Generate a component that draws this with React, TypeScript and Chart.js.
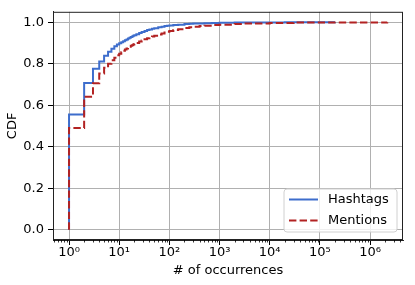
import { useEffect, useRef } from "react";
import { Chart, registerables } from "chart.js";

Chart.register(...registerables);

const hashtagsX = [1, 1, 2, 3, 4, 5, 6, 7, 8, 9, 10, 11, 12, 13, 14, 15, 16, 17, 18, 19, 20, 22, 25, 28, 32, 36, 40, 45, 50, 60, 70, 80, 90, 100, 120, 150, 200, 250, 300, 400, 500, 700, 1000, 2000, 5000, 20000, 200000];
const hashtagsY = [0, 0.555, 0.707, 0.776, 0.81, 0.838, 0.857, 0.872, 0.884, 0.892, 0.898, 0.903, 0.908, 0.913, 0.917, 0.921, 0.925, 0.928, 0.931, 0.934, 0.937, 0.942, 0.948, 0.953, 0.958, 0.962, 0.965, 0.968, 0.971, 0.975, 0.978, 0.981, 0.983, 0.984, 0.986, 0.988, 0.991, 0.992, 0.993, 0.994, 0.995, 0.996, 0.997, 0.998, 0.999, 0.9995, 1.0];

const mentionsX = [1, 1, 2, 3, 4, 5, 6, 7, 8, 9, 10, 11, 12, 13, 14, 15, 16, 17, 18, 19, 20, 22, 25, 28, 32, 36, 40, 45, 50, 60, 70, 80, 90, 100, 120, 150, 200, 250, 300, 400, 500, 700, 1000, 2000, 3000, 5000, 10000, 30000, 100000, 2200000];
const mentionsY = [0, 0.49, 0.64, 0.705, 0.752, 0.78, 0.8, 0.816, 0.829, 0.84, 0.848, 0.855, 0.862, 0.868, 0.873, 0.878, 0.882, 0.886, 0.889, 0.892, 0.895, 0.9, 0.907, 0.912, 0.918, 0.923, 0.927, 0.931, 0.935, 0.941, 0.946, 0.95, 0.954, 0.958, 0.962, 0.966, 0.972, 0.975, 0.978, 0.981, 0.983, 0.986, 0.988, 0.991, 0.993, 0.994, 0.996, 0.998, 0.999, 1.0];

const seriesLabels = ["Hashtags", "Mentions"];
const seriesColors = ["#3d6dcc", "#b22222"];

const xTickValues = [1, 10, 100, 1000, 10000, 100000, 1000000];
const xTickLabels = ["10⁰", "10¹", "10²", "10³", "10⁴", "10⁵", "10⁶"];
const yTickValues = [0, 0.2, 0.4, 0.6, 0.8, 1.0];

const xMin = 0.479;
const xMax = 4.54e6;
const yMin = -0.05;
const yMax = 1.05;

const FONT = "DejaVu Sans";

const framePlugin = {
  id: "frameAndLegend",
  afterDraw(chart: any) {
    const { ctx, chartArea: a, scales } = chart;
    const xs = scales.x;
    ctx.save();
    // minor ticks
    ctx.strokeStyle = "#000";
    ctx.lineWidth = 0.8;
    for (let d = -1; d <= 7; d++) {
      for (let m = 2; m <= 9; m++) {
        const v = m * Math.pow(10, d);
        if (v < xs.min || v > xs.max) continue;
        const px = Math.round(xs.getPixelForValue(v)) + 0.5;
        ctx.beginPath();
        ctx.moveTo(px, a.bottom);
        ctx.lineTo(px, a.bottom + 2.5);
        ctx.stroke();
      }
    }
    // frame
    ctx.strokeStyle = "#222";
    ctx.lineWidth = 1;
    ctx.strokeRect(a.left + 0.5, a.top + 0.5, a.right - a.left - 1, a.bottom - a.top - 1);

    // legend
    const bw = 113;
    const bh = 43;
    const bx = a.right - 6 - bw;
    const by = a.bottom - 8 - bh;
    const r = 3;
    ctx.beginPath();
    ctx.moveTo(bx + r, by);
    ctx.lineTo(bx + bw - r, by);
    ctx.arcTo(bx + bw, by, bx + bw, by + r, r);
    ctx.lineTo(bx + bw, by + bh - r);
    ctx.arcTo(bx + bw, by + bh, bx + bw - r, by + bh, r);
    ctx.lineTo(bx + r, by + bh);
    ctx.arcTo(bx, by + bh, bx, by + bh - r, r);
    ctx.lineTo(bx, by + r);
    ctx.arcTo(bx, by, bx + r, by, r);
    ctx.closePath();
    ctx.fillStyle = "rgba(255,255,255,0.8)";
    ctx.fill();
    ctx.strokeStyle = "#d0d0d0";
    ctx.lineWidth = 1;
    ctx.stroke();

    ctx.font = `13px "${FONT}"`;
    ctx.textBaseline = "middle";
    ctx.textAlign = "left";
    chart.data.datasets.forEach((ds: any, i: number) => {
      const ly = by + 10.5 + i * 21;
      ctx.strokeStyle = ds.borderColor;
      ctx.lineWidth = 2;
      ctx.setLineDash(ds.borderDash || []);
      ctx.beginPath();
      ctx.moveTo(bx + 5, ly);
      ctx.lineTo(bx + 34, ly);
      ctx.stroke();
      ctx.setLineDash([]);
      ctx.fillStyle = "#000";
      ctx.fillText(ds.label, bx + 44, ly + 0.5);
    });
    ctx.restore();
  },
};

export default function App() {
  const ref = useRef<HTMLCanvasElement | null>(null);

  useEffect(() => {
    document.body.style.margin = "0";
    if (!ref.current) return;
    Chart.defaults.font.family = FONT;
    Chart.defaults.font.size = 13;
    Chart.defaults.color = "#000";

    const hashData = hashtagsX.map((x, i) => ({ x, y: hashtagsY[i] }));
    const mentData = mentionsX.map((x, i) => ({ x, y: mentionsY[i] }));

    const chart = new Chart(ref.current, {
      type: "line",
      data: {
        datasets: [
          {
            label: seriesLabels[0],
            data: hashData,
            borderColor: seriesColors[0],
            backgroundColor: seriesColors[0],
            borderWidth: 2,
            pointRadius: 0,
            stepped: "before",
            fill: false,
            order: 2,
          },
          {
            label: seriesLabels[1],
            data: mentData,
            borderColor: seriesColors[1],
            backgroundColor: seriesColors[1],
            borderWidth: 2,
            borderDash: [7.4, 3.2],
            pointRadius: 0,
            stepped: "before",
            fill: false,
            order: 1,
          },
        ],
      },
      options: {
        animation: false,
        responsive: false,
        devicePixelRatio: 1,
        layout: { padding: { left: 0, right: 12, top: 11, bottom: 0 } },
        plugins: { legend: { display: false }, tooltip: { enabled: false } },
        scales: {
          x: {
            type: "logarithmic",
            min: xMin,
            max: xMax,
            offset: false,
            afterBuildTicks: (scale: any) => {
              scale.ticks = xTickValues.map((v) => ({ value: v }));
            },
            afterFit: (scale: any) => {
              scale.height = 45;
            },
            ticks: {
              autoSkip: false,
              maxRotation: 0,
              padding: 0,
              callback: (_v: any, idx: number) => xTickLabels[idx],
              font: { size: 13 },
              color: "#000",
            },
            grid: {
              color: "#b0b0b0",
              lineWidth: 1,
              drawTicks: true,
              tickLength: 5,
              tickColor: "#000",
            },
            border: { display: true, color: "#222", width: 1 },
            title: {
              display: true,
              text: "# of occurrences",
              font: { size: 13 },
              color: "#000",
              padding: { top: 0, bottom: 7 },
            },
          },
          y: {
            type: "linear",
            min: yMin,
            max: yMax,
            afterBuildTicks: (scale: any) => {
              scale.ticks = yTickValues.map((v) => ({ value: v }));
            },
            afterFit: (scale: any) => {
              scale.width = 53;
            },
            ticks: {
              padding: 4,
              callback: (v: any) => Number(v).toFixed(1),
              font: { size: 13 },
              color: "#000",
            },
            grid: {
              color: "#b0b0b0",
              lineWidth: 1,
              drawTicks: true,
              tickLength: 5,
              tickColor: "#000",
            },
            border: { display: true, color: "#222", width: 1 },
            title: {
              display: true,
              text: "CDF",
              font: { size: 13 },
              color: "#000",
              padding: { top: 5, bottom: 0 },
            },
          },
        },
      },
      plugins: [framePlugin],
    });
    return () => chart.destroy();
  }, []);

  return (
    <div style={{ width: 415, height: 285 }}>
      <canvas ref={ref} width={415} height={285} style={{ display: "block" }} />
    </div>
  );
}
